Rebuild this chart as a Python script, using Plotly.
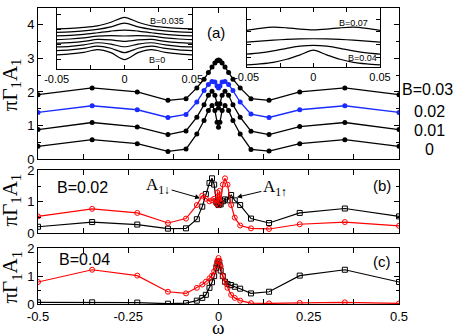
import plotly.graph_objects as go

# ---- data ----
omega_a = [-0.5, -0.35, -0.225, -0.14, -0.09, -0.06, -0.04, -0.028, -0.018, -0.01, -0.004, 0,
           0.004, 0.01, 0.018, 0.028, 0.04, 0.06, 0.09, 0.14, 0.225, 0.35, 0.5]
a_B000 = [0.38, 0.58, 0.46, 0.23, 0.30, 0.75, 1.15, 1.45, 1.60, 1.45, 1.10, 0.95,
          1.10, 1.45, 1.60, 1.45, 1.15, 0.75, 0.29, 0.24, 0.46, 0.58, 0.38]
a_B001 = [0.88, 1.09, 0.96, 0.73, 0.84, 1.25, 1.62, 1.90, 2.02, 1.90, 1.65, 1.52,
          1.65, 1.90, 2.02, 1.90, 1.62, 1.25, 0.83, 0.73, 0.97, 1.09, 0.88]
a_B002 = [1.39, 1.59, 1.47, 1.24, 1.33, 1.70, 2.04, 2.22, 2.31, 2.30, 2.18, 2.12,
          2.18, 2.30, 2.31, 2.22, 2.04, 1.70, 1.34, 1.24, 1.47, 1.59, 1.39]
a_B003 = [1.92, 2.12, 2.00, 1.75, 1.80, 2.12, 2.38, 2.58, 2.74, 2.86, 2.93, 2.95,
          2.93, 2.86, 2.74, 2.58, 2.38, 2.12, 1.80, 1.75, 2.00, 2.12, 1.92]

omega_bc = [-0.5, -0.35, -0.225, -0.14, -0.09, -0.06, -0.045, -0.035, -0.025, -0.018, -0.012,
            -0.006, -0.003, 0, 0.003, 0.006, 0.012, 0.018, 0.025, 0.035, 0.045, 0.06, 0.09,
            0.14, 0.225, 0.35, 0.5]
b_up = [0.21, 0.36, 0.28, 0.15, 0.16, 0.45, 0.85, 1.25, 1.60, 1.75, 1.55, 1.00, 0.95, 0.90,
        0.95, 0.92, 1.02, 1.08, 1.05, 1.22, 1.05, 0.90, 0.47, 0.33, 0.65, 0.79, 0.54]
b_dn = [0.54, 0.78, 0.65, 0.33, 0.47, 0.90, 1.20, 1.10, 1.02, 1.05, 1.10, 0.95, 1.30, 0.90,
        1.35, 1.00, 1.55, 1.75, 1.55, 0.90, 0.50, 0.25, 0.16, 0.14, 0.29, 0.36, 0.24]
c_up = [0.06, 0.06, 0.05, 0.01, 0.03, 0.12, 0.22, 0.33, 0.58, 0.78, 1.00, 1.30, 1.45, 1.52,
        1.40, 1.20, 1.00, 0.80, 0.72, 0.68, 0.62, 0.55, 0.38, 0.44, 1.02, 1.23, 0.79]
c_dn = [0.79, 1.23, 1.02, 0.44, 0.38, 0.58, 0.70, 0.80, 0.92, 1.02, 1.18, 1.40, 1.55, 1.65,
        1.55, 1.35, 1.00, 0.78, 0.58, 0.33, 0.22, 0.12, 0.03, 0.02, 0.04, 0.06, 0.02]

# insets (arbitrary vertical units)
omega_in = [-0.05, -0.04, -0.03, -0.02, -0.01, 0, 0.01, 0.02, 0.03, 0.04, 0.05]
inset1 = [
    [14.3, 15.2, 16.8, 19.5, 16.5, 9.5, 16.5, 19.5, 16.8, 15.2, 14.3],
    [18.5, 19.3, 20.8, 23.2, 21.0, 16.5, 21.0, 23.2, 20.8, 19.3, 18.5],
    [22.3, 23.0, 24.4, 26.6, 25.2, 22.5, 25.2, 26.6, 24.4, 23.0, 22.3],
    [26.2, 26.8, 28.0, 30.0, 29.5, 28.0, 29.5, 30.0, 28.0, 26.8, 26.2],
    [29.8, 30.4, 31.5, 33.3, 33.8, 33.5, 33.8, 33.3, 31.5, 30.4, 29.8],
    [33.7, 34.2, 35.2, 36.8, 38.5, 39.5, 38.5, 36.8, 35.2, 34.2, 33.7],
    [37.2, 37.7, 38.6, 40.2, 42.8, 46.5, 42.8, 40.2, 38.6, 37.7, 37.2],
    [40.8, 41.3, 42.2, 43.8, 47.5, 52.5, 47.5, 43.8, 42.2, 41.3, 40.8],
]
inset2 = [
    [2.4, 3.4, 5.0, 8.2, 12.7, 17.4, 12.7, 8.2, 5.0, 3.4, 2.4],
    [13.4, 14.7, 16.7, 19.2, 21.5, 22.4, 21.5, 19.2, 16.7, 14.7, 13.4],
    [25.7, 26.7, 27.7, 28.4, 28.9, 29.1, 28.9, 28.4, 27.7, 26.7, 25.7],
    [37.7, 39.7, 40.9, 40.2, 38.9, 38.2, 38.9, 40.2, 40.9, 39.7, 37.7],
]

# ---- geometry helpers ----
W, H = 457, 336
L, R, T, B = 38, 58, 1, 32
PW, PH = W - L - R, H - T - B


def px(xp):
    return (xp - L) / PW


def py(yp):
    return (H - B - yp) / PH


FONT = "Liberation Sans"
SERIF = "Liberation Serif"

fig = go.Figure()

for ys, col in [(a_B000, "black"), (a_B001, "black"), (a_B002, "#1a2bff"), (a_B003, "black")]:
    fig.add_trace(go.Scatter(x=omega_a, y=ys, mode="lines+markers", xaxis="x", yaxis="y",
                             line=dict(color=col, width=1.3),
                             marker=dict(color=col, size=5, symbol="circle")))

for ys, col, sym, ax, ay in [(b_up, "black", "square-open", "x2", "y2"),
                             (b_dn, "red", "circle-open", "x2", "y2"),
                             (c_up, "black", "square-open", "x3", "y3"),
                             (c_dn, "red", "circle-open", "x3", "y3")]:
    fig.add_trace(go.Scatter(x=omega_bc, y=ys, mode="lines+markers", xaxis=ax, yaxis=ay,
                             line=dict(color=col, width=1.2),
                             marker=dict(color=col, size=5, symbol=sym, line=dict(width=1))))

for ys in inset1:
    fig.add_trace(go.Scatter(x=omega_in, y=ys, mode="lines", xaxis="x4", yaxis="y4",
                             line=dict(color="black", width=1.2, shape="spline", smoothing=0.8)))
for ys in inset2:
    fig.add_trace(go.Scatter(x=omega_in, y=ys, mode="lines", xaxis="x5", yaxis="y5",
                             line=dict(color="black", width=1.2, shape="spline", smoothing=0.8)))

xticks = [-0.5, -0.375, -0.25, -0.125, 0, 0.125, 0.25, 0.375, 0.5]
xlabels = ["-0.5", "", "-0.25", "", "0", "", "0.25", "", "0.5"]

common = dict(showline=True, linecolor="black", linewidth=1, mirror="ticks", ticks="inside",
              tickcolor="black", showgrid=False, zeroline=False,
              tickfont=dict(family=FONT, size=13, color="black"))


def main_x(anchor, labels):
    return dict(common, domain=[0, 1], anchor=anchor, range=[-0.5, 0.5], tickvals=xticks,
                ticktext=xlabels, showticklabels=labels, ticklen=5)


def main_y(anchor, dom, rng, vals):
    return dict(common, domain=dom, anchor=anchor, range=rng, tickvals=vals, ticklen=5,
                minor=dict(ticks="inside", dtick=0.5, ticklen=3, tickcolor="black"))


inset_x = dict(common, range=[-0.05, 0.05], tickvals=[-0.05, -0.025, 0, 0.025, 0.05],
               ticktext=["-0.05", "", "0", "", "0.05"], ticklen=4,
               tickfont=dict(family=FONT, size=11, color="black"))

fig.update_layout(
    width=W, height=H, margin=dict(l=L, r=R, t=T, b=B),
    paper_bgcolor="white", plot_bgcolor="white", showlegend=False,
    xaxis=main_x("y", False),
    yaxis=main_y("x", [py(155.7), 1], [0, 4.5], [0, 1, 2, 3, 4]),
    xaxis2=main_x("y2", False),
    yaxis2=main_y("x2", [py(231.7), py(167.3)], [0, 2], [0, 1, 2]),
    xaxis3=main_x("y3", True),
    yaxis3=main_y("x3", [0, py(247)], [0, 2], [0, 1, 2]),
    xaxis4=dict(inset_x, domain=[px(56.7), px(192.3)], anchor="y4"),
    yaxis4=dict(common, domain=[py(63.3), 1], anchor="x4", range=[0, 62],
                tickvals=[10, 25, 40, 55], showticklabels=False, ticklen=4),
    xaxis5=dict(inset_x, domain=[px(246.7), px(380)], anchor="y5"),
    yaxis5=dict(common, domain=[py(61.7), 1], anchor="x5", range=[0, 60.4],
                tickvals=[10, 23, 36, 49], showticklabels=False, ticklen=4),
)

ann = []


def text(xp, yp, s, size=16, anchor="left", family=FONT):
    ann.append(dict(xref="paper", yref="paper", x=px(xp), y=py(yp), text=s, showarrow=False,
                    xanchor=anchor, yanchor="middle",
                    font=dict(family=family, size=size, color="black")))


text(400, 84, "B=0.03")
text(412, 107, "0.02")
text(412, 126, "0.01")
text(423, 146, "0")
text(216, 26, "(a)", 15, "center")
text(382, 183, "(b)", 15, "center")
text(382, 260, "(c)", 15, "center")
text(55, 185, "B=0.02")
text(57, 258, "B=0.04")
text(148, 14, "B=0.035", 9)
text(147, 54, "B=0", 9)
text(337, 16, "B=0.07", 9)
text(346, 52, "B=0.04", 9)
text(218, 328, "ω", 19, "center", SERIF)

ylab = "πΓ<sub>1</sub>A<sub>1</sub>"
for yp in [80, 198, 277]:
    ann.append(dict(xref="paper", yref="paper", x=px(11), y=py(yp), text=ylab, showarrow=False,
                    textangle=-90, xanchor="center", yanchor="middle",
                    font=dict(family=SERIF, size=21, color="black")))

ann.append(dict(xref="x2", yref="y2", x=-0.051, y=1.12, text="A<sub>1↓</sub>", showarrow=True,
                ax=-42, ay=-12, arrowhead=2, arrowsize=1, arrowwidth=1, arrowcolor="black",
                font=dict(family=SERIF, size=17, color="black")))
ann.append(dict(xref="x2", yref="y2", x=0.051, y=1.15, text="A<sub>1↑</sub>", showarrow=True,
                ax=38, ay=-9, arrowhead=2, arrowsize=1, arrowwidth=1, arrowcolor="black",
                font=dict(family=SERIF, size=17, color="black")))

fig.update_layout(annotations=ann)

# remove the default page margin so the figure sits at the window's top-left corner
fig.write_html("out.html", config={"displayModeBar": False},
               post_script="document.body.style.margin='0';")
